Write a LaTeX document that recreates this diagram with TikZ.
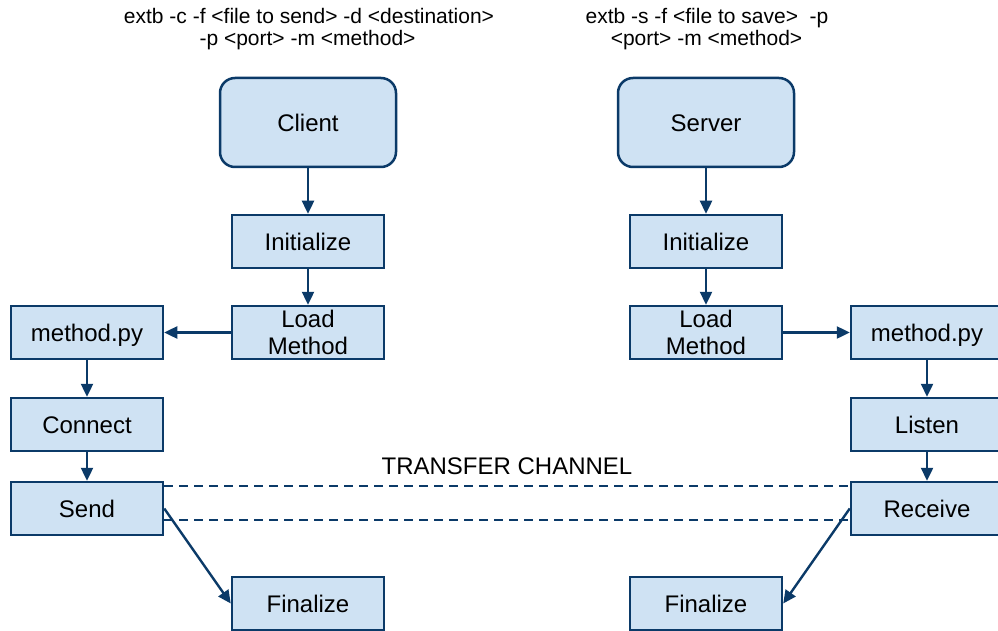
\documentclass[tikz,border=0pt]{standalone}
\usepackage{fontspec}
\setmainfont{Liberation Sans}
\usetikzlibrary{arrows.meta}
\definecolor{boxfill}{HTML}{CFE2F3}
\definecolor{boxline}{HTML}{0B3A68}
\tikzset{
  boxbase/.style={draw=boxline, fill=boxfill, line width=2.5pt, inner sep=0pt,
    minimum width=152pt, minimum height=53pt, align=center,
    font=\fontsize{24}{27}\selectfont},
  stepbox/.style={boxbase, text height=18pt, text depth=0pt},
  twolinebox/.style={boxbase},
  rolebox/.style={stepbox, rounded corners=15pt, minimum width=176pt, minimum height=89pt},
  flow/.style={draw=boxline, line width=2.4pt, -{Triangle[length=13pt,width=12pt]}},
  channel/.style={draw=boxline, line width=2.4pt, dash pattern=on 9pt off 6pt},
  cmdtext/.style={inner sep=0pt, anchor=base, font=\fontsize{21}{25}\selectfont},
}
\begin{document}
\begin{tikzpicture}[x=1pt,y=-1pt]
\useasboundingbox (0,0) rectangle (998,631);

% command lines
\node[cmdtext] (c1) at (309,23.5) {extb -c -f <file to send> -d <destination>};
\node[cmdtext] (c2) at (307.5,45.5) {-p <port> -m <method>};
\node[cmdtext] (s1) at (707,23.5) {extb -s -f <file to save>\ \ -p};
\node[cmdtext] (s2) at (706.5,45.5) {<port> -m <method>};

% client side
\node[rolebox] (client) at (308,122.5) {Client};
\node[stepbox] (cinit) at (308,241.5) {Initialize};
\node[twolinebox] (cload) at (308,332.5) {Load\\Method};
\node[stepbox] (cmeth) at (87,332.5) {method.py};
\node[stepbox] (conn) at (87,424.5) {Connect};
\node[stepbox] (send) at (87,508.5) {Send};
\node[stepbox] (cfin) at (308,603.5) {Finalize};

% server side
\node[rolebox] (server) at (706,122.5) {Server};
\node[stepbox] (sinit) at (706,241.5) {Initialize};
\node[twolinebox] (sload) at (706,332.5) {Load\\Method};
\node[stepbox] (smeth) at (927,332.5) {method.py};
\node[stepbox] (listen) at (927,424.5) {Listen};
\node[stepbox] (recv) at (927,508.5) {Receive};
\node[stepbox] (sfin) at (706,603.5) {Finalize};

% transfer channel
\node[inner sep=0pt, font=\fontsize{24}{27}\selectfont] (chan) at (507,466) {TRANSFER CHANNEL};
\draw[channel] ([yshift=-5pt]send.north east) -- ([yshift=-5pt]recv.north west);
\draw[channel] ([yshift=16pt]send.south east) -- ([yshift=16pt]recv.south west);

% client flow
\draw[flow] (client) -- (cinit);
\draw[flow] (cinit) -- (cload);
\draw[flow] (cload) -- (cmeth);
\draw[flow] (cmeth) -- (conn);
\draw[flow] (conn) -- (send);
\draw[flow] (send.east) -- (cfin.west);

% server flow
\draw[flow] (server) -- (sinit);
\draw[flow] (sinit) -- (sload);
\draw[flow] (sload) -- (smeth);
\draw[flow] (smeth) -- (listen);
\draw[flow] (listen) -- (recv);
\draw[flow] (recv.west) -- (sfin.east);
\end{tikzpicture}
\end{document}
